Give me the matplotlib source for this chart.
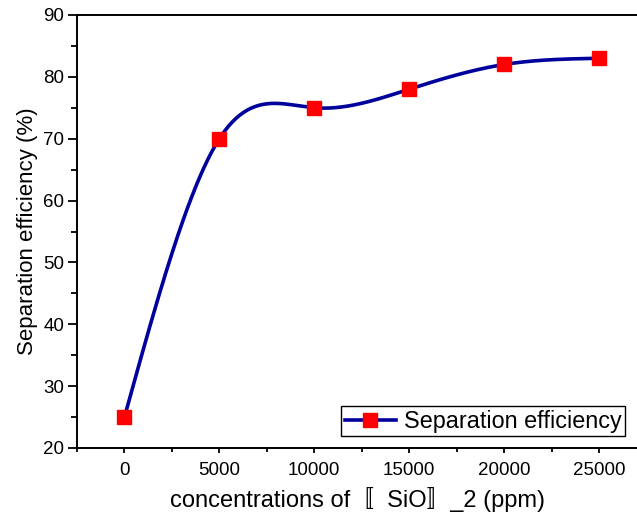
import matplotlib
matplotlib.use("Agg")
import matplotlib.pyplot as plt
import numpy as np
from matplotlib.ticker import MultipleLocator

plt.rcParams['font.family'] = ['Liberation Sans', 'Noto Sans CJK SC', 'DejaVu Sans']

# data
concentration = [0, 5000, 10000, 15000, 20000, 25000]
efficiency = [25, 70, 75, 78, 82, 83]
series_label = "Separation efficiency"


def natural_spline(x, y, xs):
    # natural cubic spline through the points, as the smoothed line
    x = np.asarray(x, float)
    y = np.asarray(y, float)
    n = len(x)
    h = np.diff(x)
    A = np.zeros((n, n))
    b = np.zeros(n)
    A[0, 0] = A[-1, -1] = 1
    for i in range(1, n - 1):
        A[i, i - 1] = h[i - 1]
        A[i, i] = 2 * (h[i - 1] + h[i])
        A[i, i + 1] = h[i]
        b[i] = 6 * ((y[i + 1] - y[i]) / h[i] - (y[i] - y[i - 1]) / h[i - 1])
    M = np.linalg.solve(A, b)
    idx = np.clip(np.searchsorted(x, xs) - 1, 0, n - 2)
    x0, x1 = x[idx], x[idx + 1]
    hh = x1 - x0
    t0 = x1 - xs
    t1 = xs - x0
    return (M[idx] * t0**3 / (6 * hh) + M[idx + 1] * t1**3 / (6 * hh)
            + (y[idx] / hh - M[idx] * hh / 6) * t0
            + (y[idx + 1] / hh - M[idx + 1] * hh / 6) * t1)


fig = plt.figure(figsize=(6.37, 5.16), dpi=100)
ax = fig.add_axes([77 / 637, 1 - 448 / 516, 1 - 77 / 637, (448 - 15) / 516])

xs = np.linspace(concentration[0], concentration[-1], 400)
ax.plot(xs, natural_spline(concentration, efficiency, xs), color="#00009c", lw=2.6)
ax.plot(concentration, efficiency, ls="none", marker="s", ms=10,
        color="red", mec="red")
# legend handle: line with marker
ax.plot([], [], color="#00009c", lw=2.6, marker="s", ms=10, mfc="red",
        mec="red", label=series_label)

ax.set_xlim(-2500, 27000)
ax.set_ylim(20, 90)
ax.xaxis.set_major_locator(MultipleLocator(5000))
ax.xaxis.set_minor_locator(MultipleLocator(2500))
ax.yaxis.set_major_locator(MultipleLocator(10))
ax.yaxis.set_minor_locator(MultipleLocator(5))
ax.tick_params(which="both", direction="out", width=1.3, labelsize=13.5)
ax.tick_params(axis="y", which="major", length=6.2, pad=3)
ax.tick_params(axis="y", which="minor", length=4.3)
ax.tick_params(axis="x", which="major", length=3.8, pad=6)
ax.tick_params(axis="x", which="minor", length=3)
ax.tick_params(top=False, right=False)
ax.spines["right"].set_visible(False)
for s in ["left", "bottom", "top"]:
    ax.spines[s].set_linewidth(1.4)

ax.set_xlabel("concentrations of〚  SiO〛_2 (ppm)", fontsize=17, labelpad=6)
ax.set_ylabel("Separation efficiency (%)", fontsize=16, labelpad=4)

leg = ax.legend(loc="lower right", fontsize=16.8, fancybox=False, framealpha=1,
                edgecolor="black", borderpad=0.15, handlelength=2.2,
                handletextpad=0.35, borderaxespad=0.5)
leg.get_frame().set_linewidth(1.0)

fig.savefig("out.png", dpi=100)
